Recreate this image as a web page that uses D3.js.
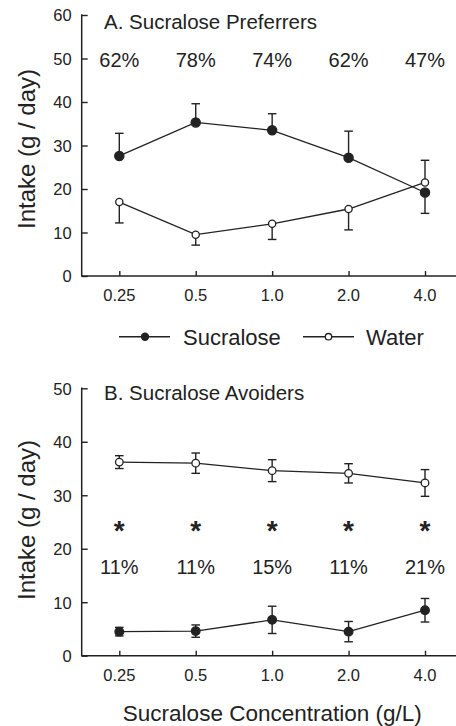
<!DOCTYPE html>
<html><head><meta charset="utf-8">
<script src="https://cdn.jsdelivr.net/npm/d3@7"></script>
<style>body{margin:0;background:#fff}svg{display:block}text{font-family:"Liberation Sans",Arial,sans-serif;fill:#222}</style>
</head><body><svg id="c" width="456" height="726"></svg>
<script>
const categories = ["0.25","0.5","1.0","2.0","4.0"];
const yTicksA = [0,10,20,30,40,50,60];
const yTicksB = [0,10,20,30,40,50];
// Panel A: Sucralose preferrers (error sign = direction drawn)
const aSucMean = [27.6,35.3,33.5,27.2,19.2];
const aSucErr  = [5.2,4.3,3.8,6.1,-4.8];
const aWatMean = [17.0,9.5,12.0,15.4,21.5];
const aWatErr  = [-4.8,-2.4,-3.6,-4.8,5.1];
const aPct = ["62%","78%","74%","62%","47%"];
// Panel B: Sucralose avoiders (symmetric error)
const bWatMean = [36.2,36.0,34.6,34.1,32.3];
const bWatErr  = [1.2,1.9,2.05,1.8,2.5];
const bSucMean = [4.5,4.6,6.7,4.5,8.5];
const bSucErr  = [0.8,1.15,2.55,1.9,2.2];
const bPct = ["11%","11%","15%","11%","21%"];
const bStarLevel = 25;
const bPctLevel = 16.6;
const aPctLevel = 49.8;

const svg = d3.select("#c");
const ink = "#222";
const x = d3.scalePoint().domain(categories).range([119.3,425]);
const axisX0 = 81.7, axisX1 = 456;

function panel(yScale, yTicks, title, titleY){
  const g = svg.append("g");
  g.append("line").attr("x1",axisX0).attr("x2",axisX0).attr("y1",yScale.range()[1]-0.7).attr("y2",yScale.range()[0])
    .attr("stroke",ink).attr("stroke-width",1.5);
  g.append("line").attr("x1",axisX0-0.7).attr("x2",axisX1).attr("y1",yScale.range()[0]).attr("y2",yScale.range()[0])
    .attr("stroke",ink).attr("stroke-width",1.5);
  const ya = d3.axisRight(yScale).tickValues(yTicks).tickSize(6).tickFormat(d3.format("d"));
  const yg = g.append("g").attr("transform",`translate(${axisX0},0)`).call(ya);
  yg.select(".domain").remove();
  yg.selectAll(".tick line").attr("stroke",ink).attr("stroke-width",1.4);
  yg.selectAll(".tick text").attr("x",-10).attr("text-anchor","end").attr("dy","0.36em")
    .style("font-size","16.5px").attr("fill",ink);
  const xa = d3.axisTop(x).tickSize(5).tickFormat(d=>"");
  const xg = g.append("g").attr("transform",`translate(0,${yScale.range()[0]})`).call(xa);
  xg.select(".domain").remove();
  xg.selectAll(".tick line").attr("stroke",ink).attr("stroke-width",1.4);
  g.selectAll(".xl").data(categories).enter().append("text")
    .attr("x",d=>x(d)).attr("y",yScale.range()[0]+19).attr("dy","0.36em").attr("text-anchor","middle")
    .style("font-size","16.5px").text(d=>d);
  g.append("text").attr("x",104).attr("y",titleY).attr("dy","0.36em").style("font-size","20.5px").text(title);
  return g;
}

function errBar(g, yScale, cx, m, t){
  g.append("line").attr("x1",cx).attr("x2",cx).attr("y1",yScale(m)).attr("y2",yScale(t)).attr("stroke",ink).attr("stroke-width",1.4);
  g.append("line").attr("x1",cx-4.3).attr("x2",cx+4.3).attr("y1",yScale(t)).attr("y2",yScale(t)).attr("stroke",ink).attr("stroke-width",1.4);
}
function series(g, yScale, mean, err, both){
  mean.forEach((m,i)=>{
    const cx = x(categories[i]);
    errBar(g, yScale, cx, m, m+err[i]);
    if (both) errBar(g, yScale, cx, m, m-err[i]);
  });
  const line = d3.line().x((d,i)=>x(categories[i])).y(d=>yScale(d));
  g.append("path").attr("d",line(mean)).attr("fill","none").attr("stroke",ink).attr("stroke-width",1.3);
}
function dots(g, yScale, mean, filled, r){
  g.selectAll(null).data(mean).enter().append("circle")
    .attr("cx",(d,i)=>x(categories[i])).attr("cy",d=>yScale(d)).attr("r",r)
    .attr("fill",filled?ink:"#fff").attr("stroke",ink).attr("stroke-width",1.3);
}

// Panel A
const yA = d3.scaleLinear().domain([0,60]).range([276,15]);
const gA = panel(yA, yTicksA, "A. Sucralose Preferrers", 21.7);
series(gA, yA, aSucMean, aSucErr, false);
series(gA, yA, aWatMean, aWatErr, false);
dots(gA, yA, aWatMean, false, 3.6);
dots(gA, yA, aSucMean, true, 4.6);
gA.selectAll(null).data(aPct).enter().append("text")
  .attr("x",(d,i)=>x(categories[i])).attr("y",yA(aPctLevel)).attr("dy","0.36em").attr("text-anchor","middle")
  .style("font-size","20px").text(d=>d);

// Legend
const lg = svg.append("g");
const ly = 336.7;
lg.append("line").attr("x1",119).attr("x2",170).attr("y1",ly).attr("y2",ly).attr("stroke",ink).attr("stroke-width",1.4);
lg.append("circle").attr("cx",145).attr("cy",ly).attr("r",4.2).attr("fill",ink);
lg.append("text").attr("x",183).attr("y",ly).attr("dy","0.36em").style("font-size","22px").text("Sucralose");
lg.append("line").attr("x1",303).attr("x2",354).attr("y1",ly).attr("y2",ly).attr("stroke",ink).attr("stroke-width",1.4);
lg.append("circle").attr("cx",328.5).attr("cy",ly).attr("r",3.2).attr("fill","#fff").attr("stroke",ink).attr("stroke-width",1.3);
lg.append("text").attr("x",366).attr("y",ly).attr("dy","0.36em").style("font-size","22px").text("Water");

// Panel B
const yB = d3.scaleLinear().domain([0,50]).range([655.7,388.3]);
const gB = panel(yB, yTicksB, "B. Sucralose Avoiders", 392.7);
series(gB, yB, bWatMean, bWatErr, true);
series(gB, yB, bSucMean, bSucErr, true);
dots(gB, yB, bWatMean, false, 3.8);
dots(gB, yB, bSucMean, true, 4.3);
gB.selectAll(null).data(categories).enter().append("text")
  .attr("x",d=>x(d)).attr("y",yB(bStarLevel)).attr("dy","0.66em").attr("text-anchor","middle")
  .style("font-size","28px").style("font-weight","bold").text("*");
gB.selectAll(null).data(bPct).enter().append("text")
  .attr("x",(d,i)=>x(categories[i])).attr("y",yB(bPctLevel)).attr("dy","0.36em").attr("text-anchor","middle")
  .style("font-size","20px").text(d=>d);

// Axis titles
svg.append("text").attr("transform","translate(26,149) rotate(-90)").attr("dy","0.36em").attr("text-anchor","middle")
  .style("font-size","24px").text("Intake (g / day)");
svg.append("text").attr("transform","translate(26,520) rotate(-90)").attr("dy","0.36em").attr("text-anchor","middle")
  .style("font-size","24px").text("Intake (g / day)");
svg.append("text").attr("x",272.3).attr("y",713.3).attr("dy","0.36em").attr("text-anchor","middle")
  .style("font-size","22.5px").text("Sucralose Concentration (g/L)");
</script></body></html>
